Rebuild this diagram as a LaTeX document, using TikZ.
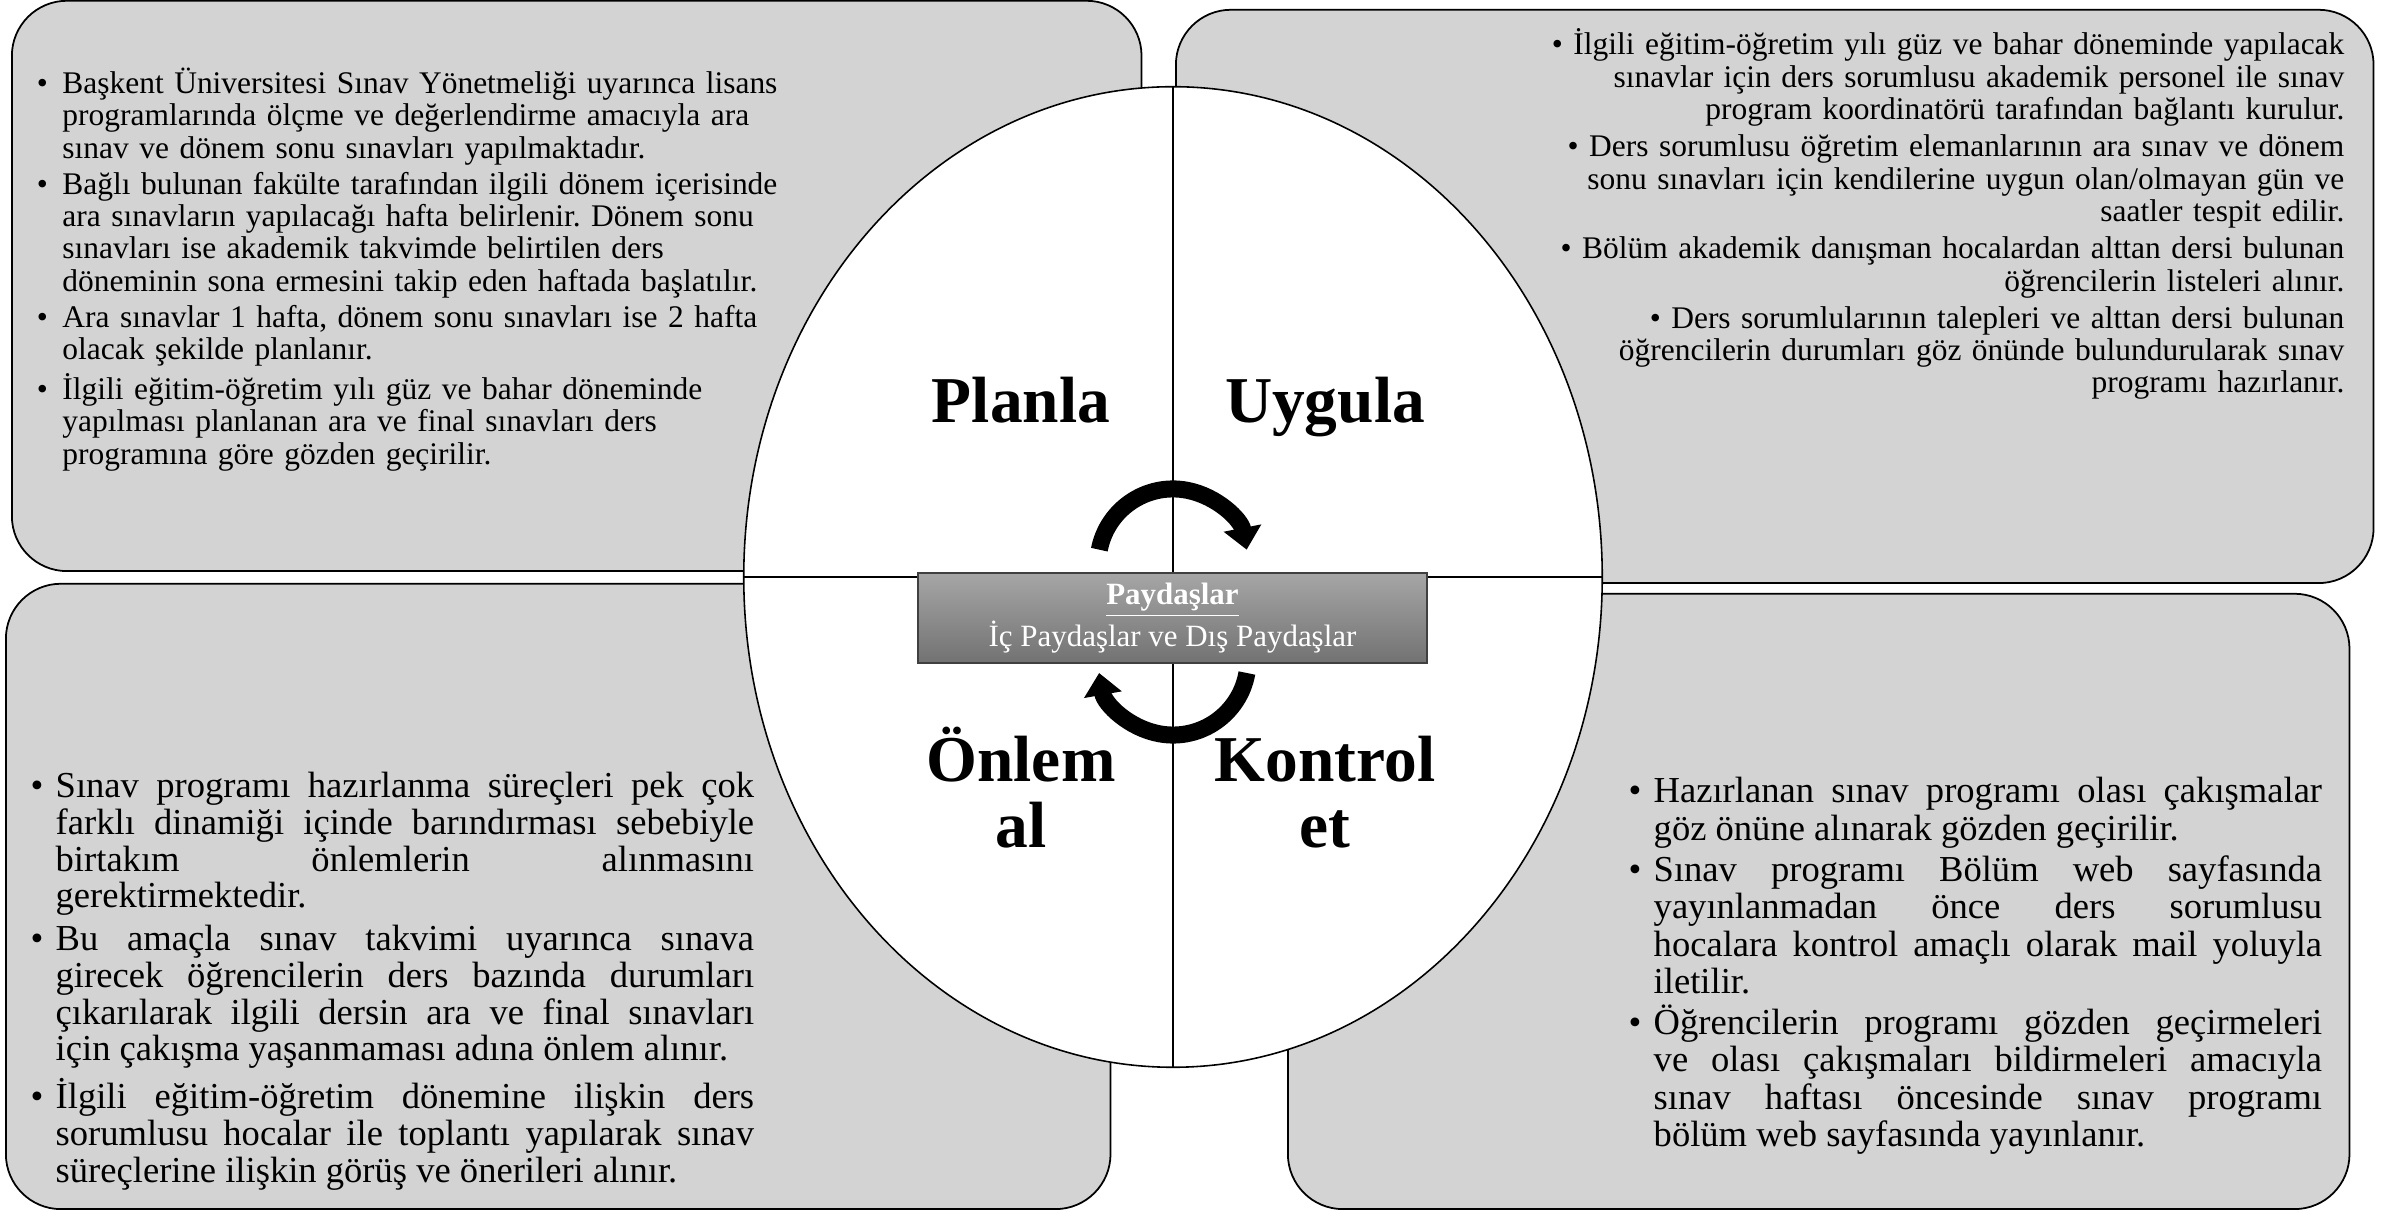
\documentclass[tikz,border=0pt]{standalone}
\usepackage{fontspec}
\setmainfont{Liberation Serif}
\usetikzlibrary{shapes.geometric,arrows.meta}
\definecolor{boxgray}{RGB}{211,211,211}
\definecolor{hubtop}{RGB}{166,166,166}
\definecolor{hubbot}{RGB}{114,114,114}
\definecolor{hubline}{RGB}{64,64,64}
\hyphenpenalty=10000
\exhyphenpenalty=10000
\frenchspacing
\newcommand{\itm}[1][4.1pt]{\noindent\llap{\textbullet\hspace{#1}}\ignorespaces}

\begin{document}
\begin{tikzpicture}[x=0.01cm, y=0.01cm,
	panel/.style={draw, line width=0.5pt, fill=boxgray, rounded corners=0.55cm, inner sep=0, anchor=south west},
	body/.style={inner sep=0, font=\fontsize{8.95}{9.22}\selectfont},
	wide/.style={inner sep=0, align=justify, anchor=base west},
	phase/.style={text width=3cm, align=center, inner sep=0, anchor=base, font=\fontsize{18.6}{18.5}\selectfont\bfseries},
	turn/.style={line width=0.17cm, -{Triangle[width=0.37cm, length=0.22cm]}}]
	\useasboundingbox (0,0) rectangle (2381,1212);
	
	\node[panel, minimum width=11.29cm, minimum height=5.70cm] (planbox) at (11,640) {};
	\node[panel, minimum width=11.97cm, minimum height=5.73cm] (dobox) at (1175,628) {};
	\node[panel, minimum width=11.04cm, minimum height=6.25cm] (actbox) at (5,2) {};
	\node[panel, minimum width=10.61cm, minimum height=6.15cm] (checkbox) at (1287,2) {};
	
	\node[ellipse, draw, fill=white, line width=0.45pt, minimum width=8.58cm, minimum height=9.80cm, inner sep=0] (ring) at (1173,635) {};
	\draw[line width=0.45pt] (ring.north) -- (ring.south);
	\draw[line width=0.45pt] (ring.west) -- (ring.east);
	
	\node[body, text width=7.8cm, anchor=base west] (plantext) at (61.7,1118.7) {\raggedright\setlength{\parskip}{1pt}%
		\itm Başkent Üniversitesi Sınav Yönetmeliği uyarınca lisans\\ programlarında ölçme ve değerlendirme amacıyla ara\\ sınav ve dönem sonu sınavları yapılmaktadır.\par
		\itm Bağlı bulunan fakülte tarafından ilgili dönem içerisinde\\ ara sınavların yapılacağı hafta belirlenir. Dönem sonu\\ sınavları ise akademik takvimde belirtilen ders\\ döneminin sona ermesini takip eden haftada başlatılır.\par
		\itm Ara sınavlar 1 hafta, dönem sonu sınavları ise 2 hafta\\ olacak şekilde planlanır.\par
		\itm İlgili eğitim-öğretim yılı güz ve bahar döneminde\\ yapılması planlanan ara ve final sınavları ders\\ programına göre gözden geçirilir.\par};
	
	\node[body, text width=9.0cm, anchor=base east] (dotext) at (2345,1157) {\raggedleft\setlength{\parskip}{1.3pt}%
		\textbullet\ İlgili eğitim-öğretim yılı güz ve bahar döneminde yapılacak\\ sınavlar için ders sorumlusu akademik personel ile sınav\\ program koordinatörü tarafından bağlantı kurulur.\par
		\textbullet\ Ders sorumlusu öğretim elemanlarının ara sınav ve dönem\\ sonu sınavları için kendilerine uygun olan/olmayan gün ve\\ saatler tespit edilir.\par
		\textbullet\ Bölüm akademik danışman hocalardan alttan dersi bulunan\\ öğrencilerin listeleri alınır.\par
		\textbullet\ Ders sorumlularının talepleri ve alttan dersi bulunan\\ öğrencilerin durumları göz önünde bulundurularak sınav\\ programı hazırlanır.\par};
	
	\node[wide, font=\fontsize{10.4}{10.41}\selectfont, text width=6.98cm] (acttext) at (55,414) {\setlength{\parskip}{1.85pt}%
		\itm[3.5pt] Sınav programı hazırlanma süreçleri pek çok\linebreak farklı dinamiği içinde barındırması sebebiyle\linebreak birtakım önlemlerin alınmasını\linebreak gerektirmektedir.\par
		\itm[3.5pt] Bu amaçla sınav takvimi uyarınca sınava\linebreak girecek öğrencilerin ders bazında durumları\linebreak çıkarılarak ilgili dersin ara ve final sınavları\linebreak için çakışma yaşanmaması adına önlem alınır.\par
		\itm[3.5pt] İlgili eğitim-öğretim dönemine ilişkin ders\linebreak sorumlusu hocalar ile toplantı yapılarak sınav\linebreak süreçlerine ilişkin görüş ve önerileri alınır.\par};
	
	\node[wide, font=\fontsize{10.4}{10.67}\selectfont, text width=6.68cm] (checktext) at (1653,409) {\setlength{\parskip}{0.85pt}%
		\itm[3.5pt] Hazırlanan sınav programı olası çakışmalar\linebreak göz önüne alınarak gözden geçirilir.\par
		\itm[3.5pt] Sınav programı Bölüm web sayfasında\linebreak yayınlanmadan önce ders sorumlusu\linebreak hocalara kontrol amaçlı olarak mail yoluyla\linebreak iletilir.\par
		\itm[3.5pt] Öğrencilerin programı gözden geçirmeleri\linebreak ve olası çakışmaları bildirmeleri amacıyla\linebreak sınav haftası öncesinde sınav programı\linebreak bölüm web sayfasında yayınlanır.\par};
	
	\node[phase] (plan) at (1021,789) {Planla};
	\node[phase] (do) at (1325,789) {Uygula};
	\node[phase] (act) at (1021,430) {Önlem\\al};
	\node[phase] (check) at (1325,430) {Kontrol\\et};
	
	\coordinate (upc) at (1173,648);
	\coordinate (lowc) at (1173,552);
	\draw[turn] ([shift={(169:0.75cm)}]upc) arc[start angle=169, end angle=11, radius=0.75cm];
	\draw[turn] ([shift={(-10:0.75cm)}]lowc) arc[start angle=-10, end angle=-170, radius=0.75cm];
	
	\node[draw=hubline, line width=0.6pt, top color=hubtop, bottom color=hubbot, minimum width=5.09cm, minimum height=0.9cm, inner sep=0, text=white, align=center, font=\fontsize{8.8}{10}\selectfont] (hub) at (1172.5,594) {\underline{\textbf{Paydaşlar}}\\İç Paydaşlar ve Dış Paydaşlar};
\end{tikzpicture}
\end{document}
